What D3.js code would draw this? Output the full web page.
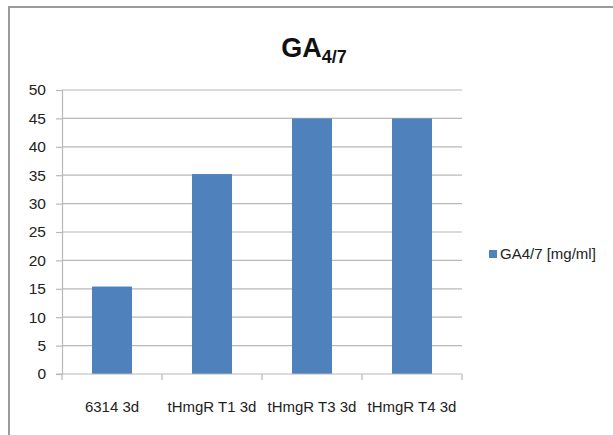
<!DOCTYPE html>
<html>
<head>
<meta charset="utf-8">
<script src="https://cdn.jsdelivr.net/npm/d3@7"></script>
<style>
  html, body { margin: 0; padding: 0; background: #fff; }
  svg { display: block; }
</style>
</head>
<body>
<svg id="chart" width="613" height="435"></svg>
<script>
// Chart data
const categories = ["6314 3d", "tHmgR T1 3d", "tHmgR T3 3d", "tHmgR T4 3d"];
const values = [15.4, 35.2, 45.0, 45.0];
const seriesName = "GA4/7 [mg/ml]";
const yTicks = [0, 5, 10, 15, 20, 25, 30, 35, 40, 45, 50];

const W = 613, H = 435;
const font = "'Liberation Sans', Arial, sans-serif";
const svg = d3.select("#chart");

// Outer frame
svg.append("rect")
  .attr("x", 9).attr("y", 7)
  .attr("width", W + 10).attr("height", H + 10)
  .attr("fill", "#fff")
  .attr("stroke", "#9a9a9a").attr("stroke-width", 2);

const plot = { left: 62, right: 462, top: 90, bottom: 374 };

const x = d3.scaleBand()
  .domain(categories)
  .range([plot.left, plot.right])
  .paddingInner(0.6).paddingOuter(0.3);

const xOuter = d3.scaleBand().domain(categories).range([plot.left, plot.right]);

const y = d3.scaleLinear().domain([0, 50]).range([plot.bottom, plot.top]);

// Horizontal gridlines
svg.append("g")
  .selectAll("line")
  .data(yTicks.filter(d => d > 0))
  .join("line")
  .attr("x1", plot.left).attr("x2", plot.right)
  .attr("y1", d => y(d)).attr("y2", d => y(d))
  .attr("stroke", "#b8b8b8").attr("stroke-width", 1.2);

// Y axis
const yAxis = svg.append("g")
  .attr("transform", `translate(${plot.left},0)`)
  .call(d3.axisLeft(y).tickValues(yTicks).tickSize(6).tickPadding(10));
yAxis.select(".domain").attr("stroke", "#b8b8b8").attr("stroke-width", 1.2);
yAxis.selectAll(".tick line").attr("stroke", "#b8b8b8").attr("stroke-width", 1.2);
yAxis.selectAll("text")
  .attr("font-family", font).attr("font-size", 15.5).attr("fill", "#222");

// Bars
svg.append("g")
  .selectAll("rect")
  .data(categories.map((c, i) => ({ c, v: values[i] })))
  .join("rect")
  .attr("x", d => x(d.c))
  .attr("width", x.bandwidth())
  .attr("y", d => y(d.v))
  .attr("height", d => y(0) - y(d.v))
  .attr("fill", "#4f81bd");

// X axis with boundary ticks
const xAxis = svg.append("g").attr("transform", `translate(0,${plot.bottom})`);
xAxis.append("line")
  .attr("x1", plot.left - 6).attr("x2", plot.right)
  .attr("stroke", "#b8b8b8").attr("stroke-width", 1.2);
const bounds = categories.map(c => xOuter(c)).concat([plot.right]);
xAxis.selectAll("line.tk")
  .data(bounds)
  .join("line").attr("class", "tk")
  .attr("x1", d => d).attr("x2", d => d)
  .attr("y1", 0).attr("y2", 6)
  .attr("stroke", "#b8b8b8").attr("stroke-width", 1.2);
xAxis.selectAll("text")
  .data(categories)
  .join("text")
  .attr("x", d => xOuter(d) + xOuter.bandwidth() / 2)
  .attr("y", 38)
  .attr("text-anchor", "middle")
  .attr("font-family", font).attr("font-size", 15).attr("fill", "#222")
  .text(d => d);

// Title with subscript
const title = svg.append("text")
  .attr("x", 314).attr("y", 57)
  .attr("text-anchor", "middle")
  .attr("font-family", font).attr("font-weight", "bold")
  .attr("font-size", 27).attr("fill", "#111");
title.append("tspan").text("GA");
title.append("tspan").attr("font-size", 18).attr("dy", 6).text("4/7");

// Legend
const legend = svg.append("g").attr("transform", "translate(489,250)");
legend.append("rect").attr("width", 8).attr("height", 8).attr("fill", "#4f81bd");
legend.append("text")
  .attr("x", 11).attr("y", 9)
  .attr("font-family", font).attr("font-size", 15).attr("fill", "#222")
  .text(seriesName);
</script>
</body>
</html>
